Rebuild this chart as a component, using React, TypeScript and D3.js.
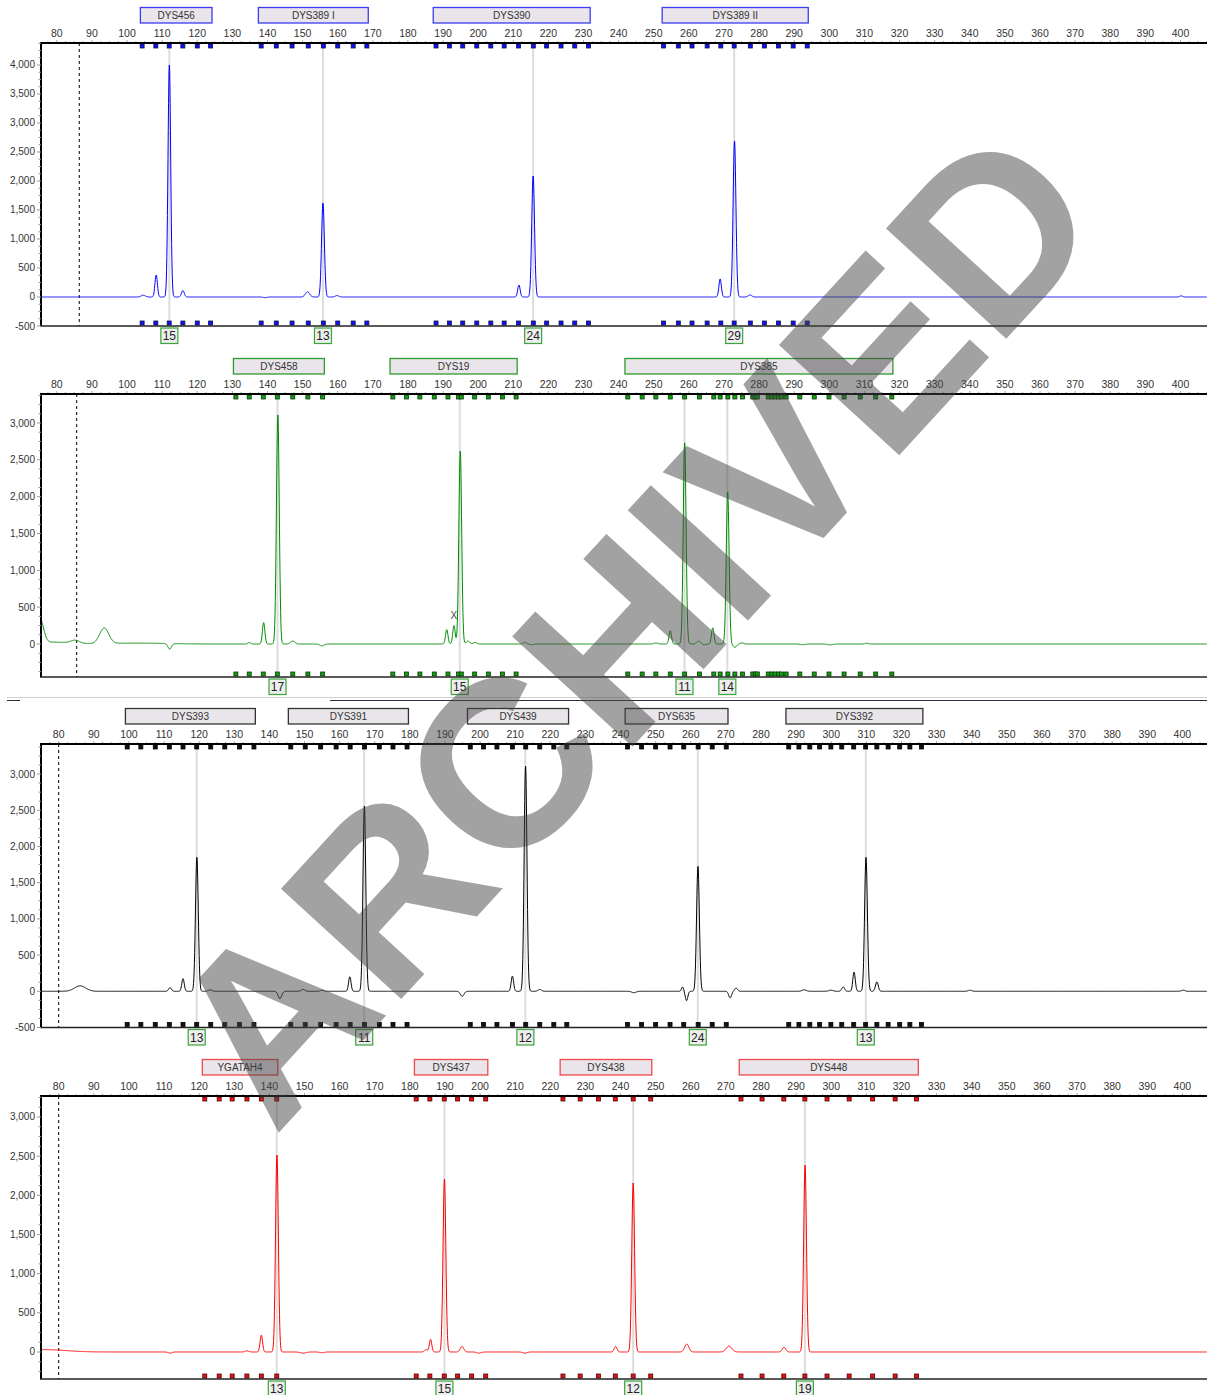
import React from "react";
import * as d3 from "d3";

// ---------- shared axis labels ----------
const sizeTicks = [80, 90, 100, 110, 120, 130, 140, 150, 160, 170, 180, 190, 200, 210, 220, 230, 240, 250, 260, 270, 280, 290, 300, 310, 320, 330, 340, 350, 360, 370, 380, 390, 400];
const blueYTicks = [-500, 0, 500, 1000, 1500, 2000, 2500, 3000, 3500, 4000];
const greenYTicks = [0, 500, 1000, 1500, 2000, 2500, 3000];
const blackYTicks = [-500, 0, 500, 1000, 1500, 2000, 2500, 3000];
const redYTicks = [0, 500, 1000, 1500, 2000, 2500, 3000];

// ---------- blue dye ----------
const blueLoci: [string, number, number][] = [["DYS456", 103.8, 124.2], ["DYS389 I", 137.4, 168.7], ["DYS390", 187.2, 231.9], ["DYS389 II", 252.4, 294.0]];
const blueBins = [104.3, 108.2, 112.0, 115.9, 120.0, 123.8, 138.2, 142.5, 147.0, 151.6, 155.9, 160.0, 164.4, 168.3, 188.0, 191.8, 195.6, 199.6, 203.6, 207.4, 211.5, 215.7, 219.5, 223.6, 227.5, 231.4, 252.8, 257.0, 260.9, 265.2, 269.1, 272.9, 277.5, 281.5, 285.5, 289.7, 293.7];
const blueAlleles: [string, number][] = [["15", 112.05], ["13", 155.8], ["24", 215.65], ["29", 272.9]];
// peaks: [size bp, height RFU, width bp]
const bluePeaks: [number, number, number][] = [
  [104.6, 30, 0.6], [108.3, 380, 0.35], [112.05, 4000, 0.38], [115.9, 110, 0.4], [139.3, -12, 0.5],
  [151.4, 90, 0.6], [155.8, 1620, 0.4], [159.8, 25, 0.5], [211.6, 207, 0.35], [215.65, 2086, 0.4],
  [268.9, 310, 0.35], [273.0, 2690, 0.4], [277.4, 35, 0.5], [400.2, 20, 0.4],
];

// ---------- green dye ----------
const greenLoci: [string, number, number][] = [["DYS458", 130.3, 156.2], ["DYS19", 174.9, 211.1], ["DYS385", 241.8, 318.1]];
const greenBins = [131.0, 134.8, 138.8, 142.8, 147.2, 151.5, 155.7, 175.7, 179.6, 183.4, 187.5, 191.4, 194.4, 195.2, 199.0, 202.9, 206.9, 210.8, 242.6, 246.7, 250.6, 254.7, 258.8, 263.0, 267.1, 268.9, 271.1, 273.1, 275.3, 278.2, 278.9, 279.5, 282.6, 283.6, 284.5, 285.5, 286.4, 287.7, 291.6, 295.7, 299.9, 304.2, 308.8, 313.2, 317.8];
const greenAlleles: [string, number][] = [["17", 142.85], ["15", 194.75], ["11", 258.75], ["14", 270.95]];
const greenPeaks: [number, number, number][] = [
  [75.2, 330, 1.0], [79.0, 25, 5], [85.2, 40, 1.2], [93.5, 210, 1.3], [103.0, 12, 8], [112.15, -75, 0.5],
  [134.8, 20, 0.4], [138.9, 290, 0.35], [142.95, 3110, 0.4], [147.2, 40, 0.6], [155.5, -25, 0.6],
  [191.05, 195, 0.35], [193.1, 250, 0.35], [194.9, 2620, 0.4], [197.1, 40, 0.5], [199.1, 20, 0.5],
  [213.3, 25, 0.4], [215.3, -12, 0.4], [250.6, 15, 0.5], [254.7, 180, 0.35], [258.8, 2730, 0.4],
  [262.8, 40, 0.5], [264.3, -10, 0.5], [266.8, 220, 0.35], [271.05, 2065, 0.4], [273.1, -45, 0.5],
  [275.1, 15, 0.5], [292.4, -10, 0.7], [300.1, -12, 0.7], [310.6, 10, 0.5],
];
const greenMarks: [string, number, number][] = [["X", 193.1, 390]];

// ---------- black (yellow) dye ----------
const blackLoci: [string, number, number][] = [["DYS393", 99.0, 136.0], ["DYS391", 145.4, 179.6], ["DYS439", 196.4, 225.2], ["DYS635", 241.3, 270.6], ["DYS392", 287.1, 326.1]];
const blackBins = [99.5, 103.4, 107.5, 111.5, 115.4, 119.3, 123.3, 127.3, 131.5, 135.6, 146.1, 150.2, 154.6, 159.0, 163.0, 167.1, 171.3, 175.2, 179.2, 197.2, 201.0, 204.8, 209.2, 213.0, 217.0, 221.0, 224.7, 242.0, 246.0, 250.0, 254.1, 258.0, 262.1, 266.1, 270.1, 287.9, 290.8, 293.9, 296.7, 299.9, 303.0, 306.4, 309.8, 313.0, 316.2, 319.5, 322.4, 325.7];
const blackAlleles: [string, number][] = [["13", 119.3], ["11", 167.0], ["12", 212.9], ["24", 262.0], ["13", 309.85]];
const blackPeaks: [number, number, number][] = [
  [86.1, 75, 1.6], [111.7, 50, 0.4], [115.4, 175, 0.35], [119.35, 1850, 0.4], [123.1, 20, 0.5],
  [143.0, -100, 0.5], [149.6, 25, 0.5], [155.0, 15, 0.5], [162.9, 200, 0.35], [167.05, 2555, 0.4],
  [194.9, -70, 0.5], [209.2, 210, 0.35], [212.95, 3110, 0.4], [217.0, 25, 0.5], [243.8, -20, 0.6],
  [257.65, 60, 0.3], [258.8, -130, 0.35], [262.05, 1725, 0.4], [271.2, -90, 0.4], [272.9, 45, 0.4],
  [292.3, 20, 0.6], [299.9, 15, 0.6], [303.4, 60, 0.4], [306.5, 265, 0.35], [309.9, 1850, 0.4],
  [313.0, 130, 0.4], [339.5, 15, 0.5], [400.2, 15, 0.5],
];

// ---------- red dye ----------
const redLoci: [string, number, number][] = [["YGATAH4", 120.9, 142.4], ["DYS437", 181.3, 202.2], ["DYS438", 222.8, 248.9], ["DYS448", 273.8, 324.8]];
const redBins = [121.6, 125.7, 129.4, 133.6, 137.7, 142.1, 181.8, 185.7, 189.8, 193.6, 197.6, 201.6, 223.6, 228.5, 233.7, 238.5, 243.6, 248.6, 274.3, 280.3, 286.5, 292.5, 298.8, 305.1, 311.8, 318.2, 324.3];
const redAlleles: [string, number][] = [["13", 142.1], ["15", 189.85], ["12", 243.6], ["19", 292.5]];
const redPeaks: [number, number, number][] = [
  [76, 30, 6], [111.7, -15, 0.5], [133.6, 15, 0.5], [137.7, 215, 0.35], [142.15, 2514, 0.4],
  [149.6, -15, 0.8], [155.0, -10, 0.6], [184.6, 30, 0.4], [185.9, 160, 0.35], [189.85, 2207, 0.4],
  [194.85, 70, 0.5], [199.7, -15, 0.6], [212.8, -15, 0.6], [238.6, 70, 0.4], [243.6, 2157, 0.4],
  [258.85, 100, 0.6], [270.9, 75, 0.8], [286.55, 60, 0.5], [292.55, 2386, 0.4],
];

const fmt = d3.formatLocale({ decimal: ".", thousands: ",", grouping: [3], currency: ["", ""], minus: "-" }).format(",");
const FONT = "'Liberation Sans', Arial, sans-serif";

type Peak = [number, number, number];

function sampleTrace(peaks: Peak[], lo: number, hi: number): [number, number][] {
  const xs: number[] = [];
  for (let b = lo; b <= hi; b += 0.08) xs.push(b);
  peaks.forEach((p) => { if (p[0] > lo && p[0] < hi) xs.push(p[0]); });
  xs.sort((a, b) => a - b);
  return xs.map((b) => [b, peaks.reduce((s, [c, h, w]) => s + h * Math.exp(-0.5 * ((b - c) / w) ** 2), 0)]);
}

interface Cfg {
  id: string; top: number; bottom: number; x0: number; yMin: number; yMax: number;
  headerY: number; tickY: number; dashBp: number; color: string; boxStroke: string;
  markFill: string; markStroke: string; loci: [string, number, number][]; bins: number[];
  alleles: [string, number][]; peaks: Peak[]; yTicks: number[]; marks?: [string, number, number][];
}

const panels: Cfg[] = [
  { id: "b", top: 43, bottom: 326, x0: 56.8, yMin: -500, yMax: 4379, headerY: 7, tickY: 33, dashBp: 86.4, color: "#0000ff", boxStroke: "#3c3cf2", markFill: "#1010ff", markStroke: "#10104a", loci: blueLoci, bins: blueBins, alleles: blueAlleles, peaks: bluePeaks, yTicks: blueYTicks },
  { id: "g", top: 394, bottom: 677, x0: 56.8, yMin: -448, yMax: 3394, headerY: 358, tickY: 384, dashBp: 85.67, color: "#008a00", boxStroke: "#2e9b2e", markFill: "#10a010", markStroke: "#0a3a0a", loci: greenLoci, bins: greenBins, alleles: greenAlleles, peaks: greenPeaks, yTicks: greenYTicks, marks: greenMarks },
  { id: "k", top: 744, bottom: 1027.5, x0: 58.7, yMin: -500, yMax: 3415, headerY: 708, tickY: 734, dashBp: 80, color: "#000000", boxStroke: "#333333", markFill: "#111111", markStroke: "#000000", loci: blackLoci, bins: blackBins, alleles: blackAlleles, peaks: blackPeaks, yTicks: blackYTicks },
  { id: "r", top: 1096, bottom: 1379, x0: 58.7, yMin: -345, yMax: 3268, headerY: 1059, tickY: 1085.5, dashBp: 80, color: "#ff0000", boxStroke: "#f04848", markFill: "#ee1111", markStroke: "#500000", loci: redLoci, bins: redBins, alleles: redAlleles, peaks: redPeaks, yTicks: redYTicks },
];

const LEFT = 41;
const RIGHT = 1207;

function Panel({ c }: { c: Cfg }) {
  const x = d3.scaleLinear().domain([80, 400]).range([c.x0, c.x0 + 320 * 3.5115]);
  const y = d3.scaleLinear().domain([c.yMin, c.yMax]).range([c.bottom, c.top]);
  const data = sampleTrace(c.peaks, x.invert(LEFT), x.invert(RIGHT));
  const line = d3.line<[number, number]>().x((d) => x(d[0])).y((d) => y(d[1]));
  const minor = d3.range(75, 408, 2.5).filter((b) => x(b) > LEFT + 1 && x(b) < RIGHT);
  const yMinor = d3.range(Math.ceil(c.yMin / 125) * 125, c.yMax, 125);
  return (
    <g>
      <defs>
        <clipPath id={`clip-${c.id}`}>
          <rect x={LEFT} y={c.top} width={RIGHT - LEFT} height={c.bottom - c.top} />
        </clipPath>
      </defs>
      {c.loci.map(([name, s, e]) => (
        <g key={name}>
          <rect x={x(s)} y={c.headerY + 0.5} width={x(e) - x(s)} height={15.5} fill="#e9e5ea" stroke={c.boxStroke} strokeWidth={1.3} />
          <text x={(x(s) + x(e)) / 2} y={c.headerY + 8.5} textAnchor="middle" dominantBaseline="central" fontSize={10} fill="#333" fontFamily={FONT}>{name}</text>
        </g>
      ))}
      {sizeTicks.map((t) => (
        <text key={t} x={x(t)} y={c.tickY} textAnchor="middle" dominantBaseline="central" fontSize={10.5} fill="#333" fontFamily={FONT}>{t}</text>
      ))}
      {minor.map((b) => (
        <line key={b} x1={x(b)} x2={x(b)} y1={c.top - (b % 10 === 0 ? 3 : 2)} y2={c.top - 0.5} stroke="#aaa" strokeWidth={1} />
      ))}
      {c.alleles.map(([lab, b], i) => (
        <line key={i} x1={x(b)} x2={x(b)} y1={c.top} y2={c.bottom} stroke="#dcdcdc" strokeWidth={2} />
      ))}
      <line x1={x(c.dashBp)} x2={x(c.dashBp)} y1={c.top} y2={c.bottom} stroke="#000" strokeWidth={1} strokeDasharray="3,3" />
      <path d={line(data) || ""} fill="none" stroke={c.color} strokeWidth={1} clipPath={`url(#clip-${c.id})`} />
      {c.marks && c.marks.map(([t, b, v], i) => (
        <text key={i} x={x(b)} y={y(v)} textAnchor="middle" dominantBaseline="central" fontSize={10} fill="#444" fontFamily={FONT}>{t}</text>
      ))}
      {c.bins.map((b, i) => (
        <g key={i}>
          <rect x={x(b) - 2} y={c.top + 1} width={4} height={4} fill={c.markFill} stroke={c.markStroke} strokeWidth={0.8} />
          <rect x={x(b) - 2} y={c.bottom - 5} width={4} height={4} fill={c.markFill} stroke={c.markStroke} strokeWidth={0.8} />
        </g>
      ))}
      <line x1={LEFT - 1} x2={RIGHT} y1={c.top} y2={c.top} stroke="#000" strokeWidth={2} />
      <line x1={LEFT} x2={LEFT} y1={c.top - 1} y2={c.bottom} stroke="#000" strokeWidth={2} />
      <line x1={LEFT - 1} x2={RIGHT} y1={c.bottom} y2={c.bottom} stroke="#222" strokeWidth={1.4} />
      {yMinor.map((v) => (
        <line key={v} x1={LEFT - (v % 500 === 0 ? 4 : 2.5)} x2={LEFT} y1={y(v)} y2={y(v)} stroke="#999" strokeWidth={1} />
      ))}
      {c.yTicks.map((v) => (
        <text key={v} x={35} y={y(v)} textAnchor="end" dominantBaseline="central" fontSize={10} fill="#333" fontFamily={FONT}>{fmt(v)}</text>
      ))}
      {c.alleles.map(([lab, b], i) => (
        <g key={i}>
          <rect x={x(b) - 8.5} y={c.bottom + 2} width={17} height={15.5} fill="#eeeeee" stroke="#3aa53a" strokeWidth={1.2} />
          <text x={x(b)} y={c.bottom + 10} textAnchor="middle" dominantBaseline="central" fontSize={12} fill="#222" fontFamily={FONT}>{lab}</text>
        </g>
      ))}
    </g>
  );
}

export default function App() {
  return (
    <svg width={1207} height={1395} viewBox="0 0 1207 1395" style={{ position: "absolute", left: 0, top: 0, display: "block", background: "#fff" }}>
      <rect x={0} y={0} width={1207} height={1395} fill="#fff" />
      {panels.map((c) => <Panel key={c.id} c={c} />)}
      <line x1={7} x2={1207} y1={697.5} y2={697.5} stroke="#d0d0d0" strokeWidth={1} />
      <line x1={7} x2={20} y1={700.5} y2={700.5} stroke="#2a3040" strokeWidth={1} />
      <line x1={330} x2={1207} y1={700.5} y2={700.5} stroke="#2a3040" strokeWidth={1} />
      <text transform="translate(630,623) rotate(-47.5)" textAnchor="middle" dy="0.36em" fontSize={237} fontWeight="bold" fontFamily={FONT} fill="rgb(70,70,70)" fillOpacity={0.5}>ARCHIVED</text>
    </svg>
  );
}
